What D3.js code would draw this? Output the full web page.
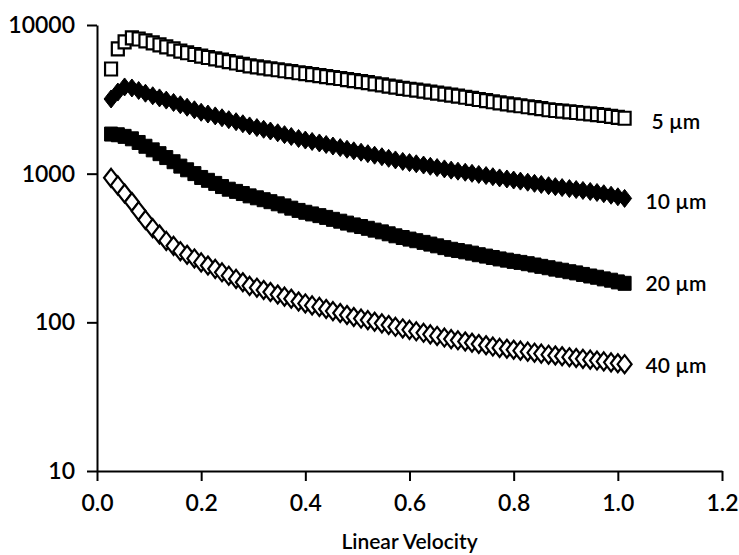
<!DOCTYPE html>
<html>
<head>
<meta charset="utf-8">
<script src="https://cdn.jsdelivr.net/npm/d3@7"></script>
<style>
  body { margin: 0; background: #fff; }
  text { font-family: Lato, "DejaVu Sans", sans-serif; }
</style>
</head>
<body>
<div id="chart"></div>
<script>
// linear velocity of each measured point
const velocity = [0.027, 0.040, 0.053, 0.067, 0.080, 0.093, 0.107, 0.120, 0.133, 0.147,
  0.160, 0.173, 0.187, 0.200, 0.213, 0.227, 0.240, 0.253, 0.267, 0.280,
  0.293, 0.307, 0.320, 0.333, 0.347, 0.360, 0.373, 0.387, 0.400, 0.413,
  0.427, 0.440, 0.453, 0.467, 0.480, 0.493, 0.507, 0.520, 0.533, 0.547,
  0.560, 0.573, 0.587, 0.600, 0.613, 0.627, 0.640, 0.653, 0.667, 0.680,
  0.693, 0.707, 0.720, 0.733, 0.747, 0.760, 0.773, 0.787, 0.800, 0.813,
  0.827, 0.840, 0.853, 0.867, 0.880, 0.893, 0.907, 0.920, 0.933, 0.947,
  0.960, 0.973, 0.987, 1.000, 1.013];

const um5 = [5060, 6900, 7690, 8180, 8050, 7830, 7590, 7355, 7130, 6900,
  6680, 6505, 6333, 6166, 6044, 5920, 5798, 5676, 5552, 5430,
  5305, 5228, 5152, 5076, 5001, 4925, 4850, 4773, 4704, 4636,
  4568, 4500, 4432, 4365, 4296, 4228, 4159, 4090, 4021, 3953,
  3884, 3815, 3752, 3697, 3644, 3589, 3535, 3481, 3426, 3374,
  3319, 3265, 3210, 3155, 3100, 3046, 2991, 2948, 2906, 2863,
  2820, 2777, 2735, 2692, 2661, 2633, 2605, 2578, 2550, 2522,
  2494, 2463, 2428, 2394, 2360];

const um10 = [3180, 3540, 3830, 3770, 3626, 3477, 3342, 3233, 3124, 3013,
  2906, 2798, 2690, 2588, 2518, 2447, 2377, 2307, 2236, 2166,
  2095, 2042, 1989, 1936, 1884, 1830, 1778, 1724, 1683, 1646,
  1609, 1571, 1534, 1497, 1459, 1425, 1394, 1363, 1331, 1300,
  1268, 1237, 1209, 1187, 1165, 1143, 1121, 1099, 1077, 1056,
  1039, 1022, 1005, 988, 971, 954, 936, 921, 906, 891,
  876, 861, 846, 830, 818, 806, 794, 782, 771, 759,
  747, 733, 716, 699, 682];

const um20 = [1847, 1827, 1782, 1716, 1621, 1529, 1446, 1363, 1283, 1203,
  1124, 1062, 1001, 943, 902, 860, 819, 786, 760, 735,
  709, 688, 668, 648, 627, 607, 586, 566, 550, 536,
  522, 508, 493, 479, 465, 452, 441, 429, 417, 406,
  394, 382, 372, 363, 354, 345, 336, 327, 318, 310,
  304, 298, 292, 285, 279, 273, 267, 262, 257, 253,
  248, 243, 238, 233, 228, 224, 219, 215, 210, 205,
  201, 196, 192, 187, 183];

const um40 = [937, 834, 736, 645, 560, 489, 430, 390, 353, 327,
  301, 285, 269, 253, 241, 229, 217, 206, 196, 186,
  176, 171, 165, 160, 154, 149, 144, 138, 134, 130,
  127, 123, 119, 115.5, 112, 108.6, 106, 103.5, 100.9, 98.4,
  95.9, 93.3, 91, 89, 87, 85, 83, 81, 79, 77.1,
  75.7, 74.3, 72.9, 71.5, 70.1, 68.7, 67.3, 66.4, 65.4, 64.5,
  63.5, 62.5, 61.6, 60.6, 59.8, 59.1, 58.3, 57.6, 56.8, 56.1,
  55.3, 54.6, 53.8, 53.1, 52.3];

const seriesNames = ['5 µm', '10 µm', '20 µm', '40 µm'];
const xTicks = [0, 0.2, 0.4, 0.6, 0.8, 1.0, 1.2];
const yTicks = [10, 100, 1000, 10000];

const series = [
  {name: seriesNames[0], values: um5, shape: 'square', open: true, dx: 27, dy: 5},
  {name: seriesNames[1], values: um10, shape: 'diamond', open: false, dx: 21, dy: 5},
  {name: seriesNames[2], values: um20, shape: 'square', open: false, dx: 21, dy: 2},
  {name: seriesNames[3], values: um40, shape: 'diamond', open: true, dx: 21, dy: 3}
];

const width = 739;
const height = 555;
const margin = {top: 25, right: 17, bottom: 84, left: 97};

const svg = d3.select('#chart')
  .append('svg')
  .attr('width', width)
  .attr('height', height);

const x = d3.scaleLinear()
  .domain([0, 1.2])
  .range([margin.left, width - margin.right]);

const y = d3.scaleLog()
  .domain([10, 10000])
  .range([height - margin.bottom, margin.top]);

// axes
const xAxis = svg.append('g')
  .attr('transform', `translate(0,${height - margin.bottom})`)
  .call(d3.axisBottom(x)
    .tickValues(xTicks)
    .tickFormat(d3.format('.1f'))
    .tickSize(10)
    .tickSizeOuter(0)
    .tickPadding(14));

const yAxis = svg.append('g')
  .attr('transform', `translate(${margin.left},0)`)
  .call(d3.axisLeft(y)
    .tickValues(yTicks)
    .tickFormat(d3.format('d'))
    .tickSize(10)
    .tickSizeOuter(0)
    .tickPadding(12));

[xAxis, yAxis].forEach(g => {
  g.select('.domain').attr('stroke', '#000').attr('stroke-width', 2);
  g.selectAll('.tick line').attr('stroke', '#000').attr('stroke-width', 2);
  g.selectAll('.tick text')
    .attr('fill', '#000')
    .style('font-size', '23px')
    .style('font-weight', 600);
});

svg.append('text')
  .attr('x', x(0.6))
  .attr('y', height - 6)
  .attr('text-anchor', 'middle')
  .style('font-size', '21px')
  .style('font-weight', 600)
  .text('Linear Velocity');

// markers
const openSquare = 'M-6,-6.5H6V6.5H-6Z';
const fullSquare = 'M-6.5,-7H6.5V7H-6.5Z';
const diamondPath = 'M0,-9L7,0L0,9L-7,0Z';

series.forEach(s => {
  const pts = velocity.map((v, i) => ({v: v, val: s.values[i]}));
  const shape = s.shape === 'diamond' ? diamondPath : (s.open ? openSquare : fullSquare);
  svg.append('g')
    .selectAll('path')
    .data(pts)
    .enter().append('path')
    .attr('transform', d => `translate(${x(d.v)},${y(d.val)})`)
    .attr('d', shape)
    .attr('fill', s.open ? '#fff' : '#000')
    .attr('stroke', '#000')
    .attr('stroke-width', s.open ? 2.2 : 1);

  const last = pts[pts.length - 1];
  svg.append('text')
    .attr('x', x(last.v) + s.dx)
    .attr('y', y(last.val) + s.dy)
    .attr('dominant-baseline', 'middle')
    .style('font-size', '21px')
    .style('font-weight', 600)
    .text(s.name);
});
</script>
</body>
</html>
